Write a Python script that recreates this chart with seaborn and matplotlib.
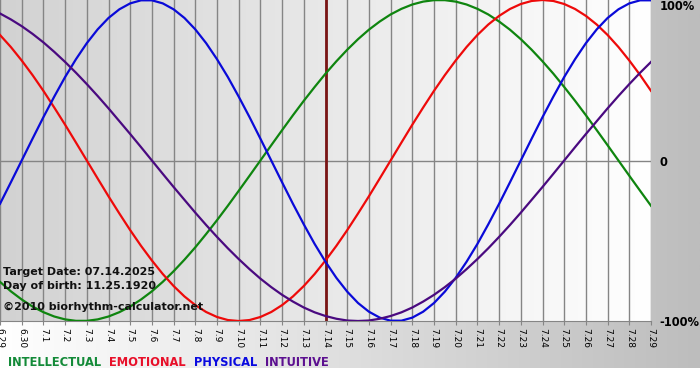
import numpy as np
import pandas as pd
import matplotlib
matplotlib.use("Agg")
import matplotlib.pyplot as plt
from matplotlib.colors import LinearSegmentedColormap
import seaborn as sns

# day labels on the x axis (6.29 .. 7.29)
day_labels = ["6.29", "6.30", "7.1", "7.2", "7.3", "7.4", "7.5", "7.6", "7.7", "7.8",
              "7.9", "7.10", "7.11", "7.12", "7.13", "7.14", "7.15", "7.16", "7.17",
              "7.18", "7.19", "7.20", "7.21", "7.22", "7.23", "7.24", "7.25", "7.26",
              "7.27", "7.28", "7.29"]

# values every half day (-1 = -100%, 1 = 100%)
intellectual = [-0.756, -0.815, -0.866, -0.910, -0.945, -0.972, -0.990, -0.999, -0.999, -0.990,
                -0.972, -0.945, -0.910, -0.866, -0.815, -0.756, -0.690, -0.618, -0.541, -0.458,
                -0.372, -0.282, -0.189, -0.095, 0.000, 0.095, 0.189, 0.282, 0.372, 0.458,
                0.541, 0.618, 0.690, 0.756, 0.815, 0.866, 0.910, 0.945, 0.972, 0.990,
                0.999, 0.999, 0.990, 0.972, 0.945, 0.910, 0.866, 0.815, 0.756, 0.690,
                0.618, 0.541, 0.458, 0.372, 0.282, 0.189, 0.095, 0.000, -0.095, -0.189,
                -0.282]
emotional = [0.782, 0.707, 0.623, 0.532, 0.434, 0.330, 0.223, 0.112, 0.000, -0.112,
             -0.223, -0.330, -0.434, -0.532, -0.623, -0.707, -0.782, -0.847, -0.901, -0.944,
             -0.975, -0.994, -1.000, -0.994, -0.975, -0.944, -0.901, -0.847, -0.782, -0.707,
             -0.623, -0.532, -0.434, -0.330, -0.223, -0.112, 0.000, 0.112, 0.223, 0.330,
             0.434, 0.532, 0.623, 0.707, 0.782, 0.847, 0.901, 0.944, 0.975, 0.994,
             1.000, 0.994, 0.975, 0.944, 0.901, 0.847, 0.782, 0.707, 0.623, 0.532,
             0.434]
physical = [-0.270, -0.136, 0.000, 0.136, 0.270, 0.398, 0.520, 0.631, 0.731, 0.817,
            0.888, 0.942, 0.979, 0.998, 0.998, 0.979, 0.942, 0.888, 0.817, 0.731,
            0.631, 0.520, 0.398, 0.270, 0.136, 0.000, -0.136, -0.270, -0.398, -0.520,
            -0.631, -0.731, -0.817, -0.888, -0.942, -0.979, -0.998, -0.998, -0.979, -0.942,
            -0.888, -0.817, -0.731, -0.631, -0.520, -0.398, -0.270, -0.136, 0.000, 0.136,
            0.270, 0.398, 0.520, 0.631, 0.731, 0.817, 0.888, 0.942, 0.979, 0.998,
            0.998]
intuitive = [0.916, 0.879, 0.837, 0.789, 0.736, 0.677, 0.614, 0.547, 0.476, 0.402,
             0.325, 0.245, 0.165, 0.083, 0.000, -0.083, -0.165, -0.245, -0.325, -0.402,
             -0.476, -0.547, -0.614, -0.677, -0.736, -0.789, -0.837, -0.879, -0.916, -0.946,
             -0.969, -0.986, -0.997, -1.000, -0.997, -0.986, -0.969, -0.946, -0.916, -0.879,
             -0.837, -0.789, -0.736, -0.677, -0.614, -0.547, -0.476, -0.402, -0.325, -0.245,
             -0.165, -0.083, 0.000, 0.083, 0.165, 0.245, 0.325, 0.402, 0.476, 0.547,
             0.614]

rhythm_names = ["INTELLECTUAL", "EMOTIONAL", "PHYSICAL", "INTUITIVE"]
line_colors = ["#0f850f", "#ee0a0a", "#0a0ad8", "#4a0a80"]
legend_colors = ["#138a38", "#e8102a", "#0a0ae0", "#5c1090"]

target_day = "7.14"
info_lines = ["Target Date: 07.14.2025", "Day of birth: 11.25.1920",
              "\u00a92010 biorhythm-calculator.net"]
y_ticks = [-1, 0, 1]
y_tick_labels = ["-100%", "0", "100%"]

W, H = 700, 380
fig = plt.figure(figsize=(W / 100, H / 100), dpi=100)
fig.patch.set_facecolor("white")

# figure background: white -> gray horizontal gradient, white strip at bottom
bg = fig.add_axes([0, 12 / H, 1, 1 - 12 / H], zorder=-10)
bg_cmap = LinearSegmentedColormap.from_list("bg", ["#ffffff", "#bdbdbd"])
bg.imshow(np.linspace(0, 1, 256).reshape(1, -1), cmap=bg_cmap, aspect="auto",
          extent=[0, 1, 0, 1])
bg.set_axis_off()

ax = fig.add_axes([0, 59 / H, 651 / W, 321 / H])
ax.patch.set_alpha(0)
n_days = len(day_labels)
plot_cmap = LinearSegmentedColormap.from_list("plot", ["#d2d2d2", "#ffffff"])
ax.imshow(np.linspace(0, 1, 256).reshape(1, -1), cmap=plot_cmap, aspect="auto",
          extent=[0, n_days - 1, -1, 1], zorder=0)

# half-day sampling positions
sample_x = np.arange(len(physical)) * 0.5
df = pd.DataFrame({
    "day": np.tile(sample_x, 4),
    "value": intellectual + emotional + physical + intuitive,
    "rhythm": [r for r in rhythm_names for _ in range(len(sample_x))],
})

# day grid, zero line, target date marker
for d in range(n_days):
    ax.axvline(d, color="#858585", lw=1.0, zorder=1)
ax.axhline(0, color="#858585", lw=1.0, zorder=1)
ax.axvline(day_labels.index(target_day), color="#7a1515", lw=2.0, zorder=1.5)

sns.lineplot(data=df, x="day", y="value", hue="rhythm", hue_order=rhythm_names,
             palette=dict(zip(rhythm_names, line_colors)), linewidth=1.6,
             legend=False, ax=ax, zorder=3)

ax.set_xlim(0, n_days - 1)
ax.set_ylim(-1, 1)
ax.set_xlabel("")
ax.set_ylabel("")
for side in ["top", "left", "right"]:
    ax.spines[side].set_visible(False)
ax.spines["bottom"].set_color("#858585")

ax.set_xticks(range(n_days))
ax.set_xticklabels(day_labels, rotation=270, fontsize=6.5, family="DejaVu Sans")
ax.tick_params(axis="x", length=3, color="#858585", pad=2)

ax.yaxis.tick_right()
ax.set_yticks(y_ticks)
ax.set_yticklabels(y_tick_labels, fontsize=8.3, fontweight="bold")
ax.tick_params(axis="y", length=0, pad=6)
for lab in ax.get_yticklabels():
    if lab.get_text() == "100%":
        lab.set_va("top")
        lab.set_y(1)

for txt, yf in zip(info_lines, [0.153, 0.109, 0.044]):
    ax.text(0.005, yf, txt, transform=ax.transAxes, fontsize=8,
            fontweight="bold", color="#111111", va="center", ha="left", zorder=5)

# legend row of coloured names
fig.canvas.draw()
renderer = fig.canvas.get_renderer()
x_px = 8
for name, col in zip(rhythm_names, legend_colors):
    t = fig.text(x_px / W, 1 - 362 / H, name, color=col, fontsize=8.3,
                 fontweight="bold", va="center", ha="left")
    x_px = t.get_window_extent(renderer).x1 + 8

fig.savefig("out.png", dpi=100)
